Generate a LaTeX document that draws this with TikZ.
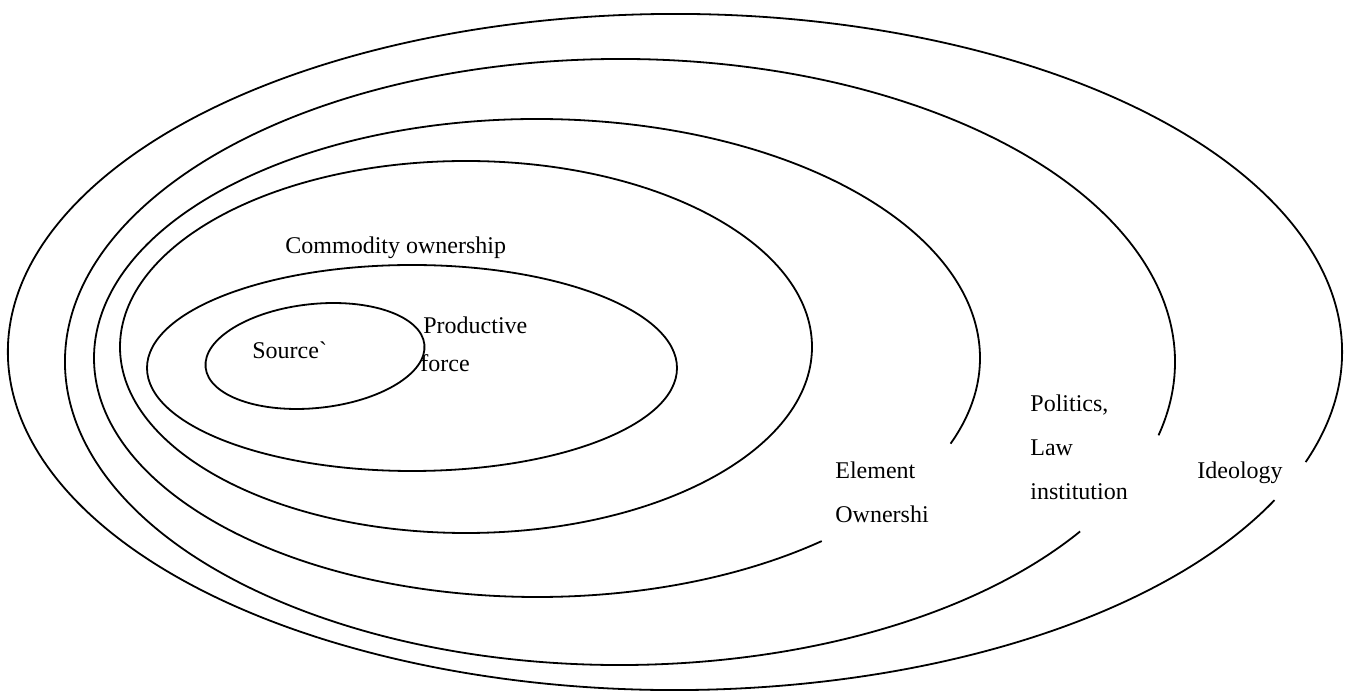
\documentclass[tikz,border=0pt]{standalone}
\usepackage{fontspec}
\setmainfont{Liberation Serif}[Ligatures=TeXOff]
\usetikzlibrary{positioning}

\begin{document}
\begin{tikzpicture}[
  x=0.5pt, y=-0.5pt,
  ring/.style={draw=black, line width=0.9pt},
  lbl/.style={font=\fontsize{12}{14}\selectfont, inner sep=0pt, anchor=base west},
]
\useasboundingbox (0,0) rectangle (1345,699);

% closed rings
\draw[ring] (315,356) ellipse[x radius=110, y radius=52, rotate=6];
\draw[ring] (412,368) ellipse[x radius=265, y radius=103];
\draw[ring] (466,347) ellipse[x radius=346, y radius=186];

% open rings, gap on the right for the labels
\draw[ring] ([shift={(537,358)}] 50:443 and 239) arc[start angle=50, end angle=381, x radius=443, y radius=239];
\draw[ring] ([shift={(620,362)}] 34:555 and 303) arc[start angle=34, end angle=374, x radius=555, y radius=303];
\draw[ring] ([shift={(675,352)}] 26:667 and 338) arc[start angle=26, end angle=379, x radius=667, y radius=338];

% labels
\node[lbl] (source) at (252,359) {Source`};
\node[lbl] (prod) at (423,334) {Productive};
\node[lbl] (force) at (420,372) {force};
\node[lbl] (commod) at (285,254) {Commodity ownership};
\node[lbl] (elem) at (835,479) {Element};
\node[lbl] (owner) at (835,523) {Ownershi};
\node[lbl] (polit) at (1030,412) {Politics,};
\node[lbl] (law) at (1030,456) {Law};
\node[lbl] (inst) at (1030,500) {institution};
\node[lbl] (ideo) at (1197,479) {Ideology};
\end{tikzpicture}
\end{document}
